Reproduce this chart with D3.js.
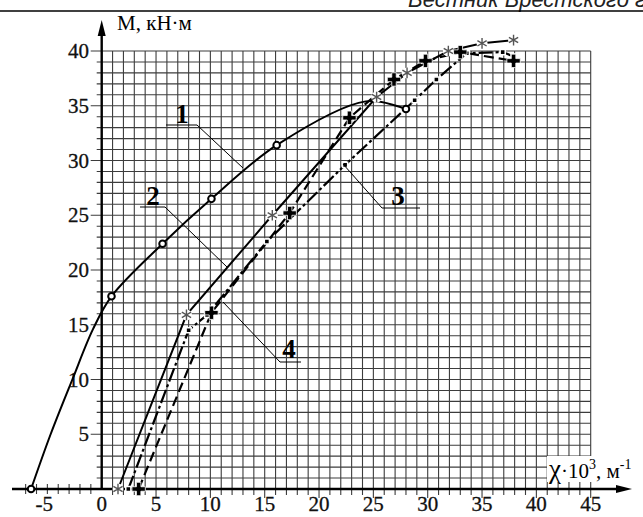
<!DOCTYPE html>
<html>
<head>
<meta charset="utf-8">
<script src="https://cdn.jsdelivr.net/npm/d3@7"></script>
<style>
  body { margin: 0; background: #fff; }
  svg { display: block; font-family: "Liberation Serif", "DejaVu Serif", serif; }
</style>
</head>
<body>
<div id="chart"></div>
<script>
// curve points [chi*10^3, M]
const curve1 = [[-6.5, 0], [0.9, 17.6], [5.6, 22.4], [10.1, 26.5], [16.1, 31.4], [28.0, 34.7]];
// points of curve 1 read between the markers
const curve1Between = [[-4.7, 5], [-2.7, 10], [-0.8, 14.6], [24.3, 35.4]];
const curve2 = [[1.5, 0], [7.8, 15.9], [15.7, 25.0], [25.3, 35.8], [28.1, 38.0], [31.9, 40.0], [35.0, 40.7], [37.9, 41.0]];
const curve3 = [[2.45, 0], [8.0, 14.5], [9.7, 15.9], [15.2, 22.6], [22.4, 29.6], [28.8, 35.5], [30.8, 37.4], [33.6, 39.8], [36.9, 39.9], [37.9, 39.5]];
const curve4 = [[3.4, 0], [10.1, 16.1], [17.3, 25.2], [22.8, 33.9], [26.9, 37.4], [29.8, 39.1], [33.0, 39.9], [37.9, 39.1]];

const xTicks = [-5, 0, 5, 10, 15, 20, 25, 30, 35, 40, 45];
const yTicks = [5, 10, 15, 20, 25, 30, 35, 40];
const curveNames = ['1', '2', '3', '4'];

const width = 643, height = 517;

const svg = d3.select('#chart').append('svg')
    .attr('width', width)
    .attr('height', height);

const x = d3.scaleLinear().domain([0, 45]).range([101.7, 590.7]);
const y = d3.scaleLinear().domain([0, 40]).range([489, 51]);

// journal header
svg.append('text')
    .attr('x', 408).attr('y', 7)
    .attr('font-family', 'Liberation Sans, Arial, sans-serif')
    .attr('font-style', 'italic')
    .attr('font-size', 22)
    .attr('fill', '#222')
    .text('Вестник Брестского государственного технического университета');
svg.append('line')
    .attr('x1', 0).attr('x2', width)
    .attr('y1', 11).attr('y2', 11)
    .attr('stroke', '#000').attr('stroke-width', 1.5);

// grid 1x1
const grid = svg.append('g').attr('stroke', '#3c3c3c').attr('stroke-width', 1.1);
d3.range(0, 46).forEach(v => {
    grid.append('line')
        .attr('x1', x(v)).attr('x2', x(v))
        .attr('y1', y(0) + (v === 0 ? 0 : (v % 5 === 0 ? 9 : 6))).attr('y2', y(40));
});
d3.range(0, 41).forEach(v => {
    grid.append('line')
        .attr('x1', x(0) - (v % 5 === 0 ? 11 : 5)).attr('x2', x(45))
        .attr('y1', y(v)).attr('y2', y(v));
});
// ticks on negative side of x axis
d3.range(-7, 0).forEach(v => {
    grid.append('line')
        .attr('x1', x(v)).attr('x2', x(v))
        .attr('y1', y(0) - 5).attr('y2', y(0) + 5);
});

// axes
svg.append('line')
    .attr('x1', 12).attr('x2', 622)
    .attr('y1', y(0)).attr('y2', y(0))
    .attr('stroke', '#000').attr('stroke-width', 2.4);
svg.append('path')
    .attr('d', `M632,${y(0)} L616,${y(0) - 4} L616,${y(0) + 4} Z`)
    .attr('fill', '#000');
svg.append('line')
    .attr('x1', x(0)).attr('x2', x(0))
    .attr('y1', y(0)).attr('y2', 30)
    .attr('stroke', '#000').attr('stroke-width', 2.4);
svg.append('path')
    .attr('d', `M${x(0)},20 L${x(0) - 4},36 L${x(0) + 4},36 Z`)
    .attr('fill', '#000');

// tick labels
svg.append('g').selectAll('text')
    .data(xTicks).enter().append('text')
    .attr('x', d => x(d) - (d < 0 ? 3 : 0))
    .attr('y', 511)
    .attr('text-anchor', 'middle')
    .attr('font-size', 21)
    .attr('fill', '#111').attr('stroke', '#111').attr('stroke-width', 0.3)
    .text(d => d);
svg.append('g').selectAll('text')
    .data(yTicks).enter().append('text')
    .attr('x', 89)
    .attr('y', d => y(d) + 7)
    .attr('text-anchor', 'end')
    .attr('font-size', 21)
    .attr('fill', '#111').attr('stroke', '#111').attr('stroke-width', 0.3)
    .text(d => d);

// axis titles
svg.append('text')
    .attr('x', 117).attr('y', 30)
    .attr('font-size', 21)
    .text('M, кН·м');
svg.append('rect')
    .attr('x', 547).attr('y', 456).attr('width', 96).attr('height', 26)
    .attr('fill', '#fff');
const xt = svg.append('text')
    .attr('x', 549).attr('y', 478)
    .attr('font-size', 21);
xt.append('tspan').attr('font-size', 27).text('χ');
xt.append('tspan').text('·10');
xt.append('tspan').attr('dy', -9).attr('font-size', 14).text('3');
xt.append('tspan').attr('dy', 9).text(', м');
xt.append('tspan').attr('dy', -9).attr('font-size', 14).text('-1');

// curves
const lineGen = d3.line().x(d => x(d[0])).y(d => y(d[1]));
const smooth = d3.line().x(d => x(d[0])).y(d => y(d[1])).curve(d3.curveCatmullRom.alpha(0.5));

const path1 = curve1.concat(curve1Between).sort((a, b) => a[0] - b[0]);
svg.append('path').datum(path1)
    .attr('d', smooth).attr('fill', 'none')
    .attr('stroke', '#000').attr('stroke-width', 2);
svg.append('path').datum(curve2)
    .attr('d', lineGen).attr('fill', 'none')
    .attr('stroke', '#000').attr('stroke-width', 2);
svg.append('path').datum(curve3)
    .attr('d', lineGen).attr('fill', 'none')
    .attr('stroke', '#000').attr('stroke-width', 2.2)
    .attr('stroke-dasharray', '14,3,3,3');
svg.append('path').datum(curve4)
    .attr('d', lineGen).attr('fill', 'none')
    .attr('stroke', '#000').attr('stroke-width', 2.2)
    .attr('stroke-dasharray', '10,5');

// markers
svg.append('g').selectAll('circle')
    .data(curve1).enter().append('circle')
    .attr('cx', d => x(d[0])).attr('cy', d => y(d[1]))
    .attr('r', 3.3)
    .attr('fill', '#fff').attr('stroke', '#000').attr('stroke-width', 2);

const ast = d3.symbol().type(d3.symbolAsterisk).size(80);
const m2 = svg.append('g').selectAll('g')
    .data(curve2).enter().append('g')
    .attr('transform', d => `translate(${x(d[0])},${y(d[1])})`);
m2.append('circle').attr('r', 5.5).attr('fill', '#fff');
m2.append('path').attr('d', ast)
    .attr('fill', 'none').attr('stroke', '#555').attr('stroke-width', 1.4);

svg.append('g').selectAll('path')
    .data(curve3).enter().append('path')
    .attr('transform', d => `translate(${x(d[0])},${y(d[1])})`)
    .attr('d', d3.symbol().type(d3.symbolSquare).size(26))
    .attr('fill', '#000').attr('stroke', '#fff').attr('stroke-width', 1.5);

svg.append('g').selectAll('path')
    .data(curve4).enter().append('path')
    .attr('transform', d => `translate(${x(d[0])},${y(d[1])})`)
    .attr('d', d3.symbol().type(d3.symbolCross).size(100))
    .attr('fill', '#000').attr('stroke', '#fff').attr('stroke-width', 0.8);

// curve labels with leaders
const callouts = [
    { lx: 182, ly: 123, u0: 166, u1: 197, uy: 125, ex: 243, ey: 168, from: 'right' },
    { lx: 153, ly: 205, u0: 140, u1: 165, uy: 207, ex: 227, ey: 267, from: 'right' },
    { lx: 398, ly: 205, u0: 382, u1: 420, uy: 208, ex: 343, ey: 164, from: 'left' },
    { lx: 289, ly: 358, u0: 280, u1: 301, uy: 362, ex: 223, ey: 302, from: 'left' }
];
const cg = svg.append('g');
callouts.forEach((c, i) => {
    const sx = c.from === 'right' ? c.u1 : c.u0;
    cg.append('path')
        .attr('d', `M${c.u0},${c.uy} L${c.u1},${c.uy} M${sx},${c.uy} L${c.ex},${c.ey}`)
        .attr('fill', 'none').attr('stroke', '#000').attr('stroke-width', 1);
    cg.append('text')
        .attr('x', c.lx).attr('y', c.ly)
        .attr('text-anchor', 'middle')
        .attr('font-size', 27).attr('font-weight', 'bold')
        .text(curveNames[i]);
});
</script>
</body>
</html>
